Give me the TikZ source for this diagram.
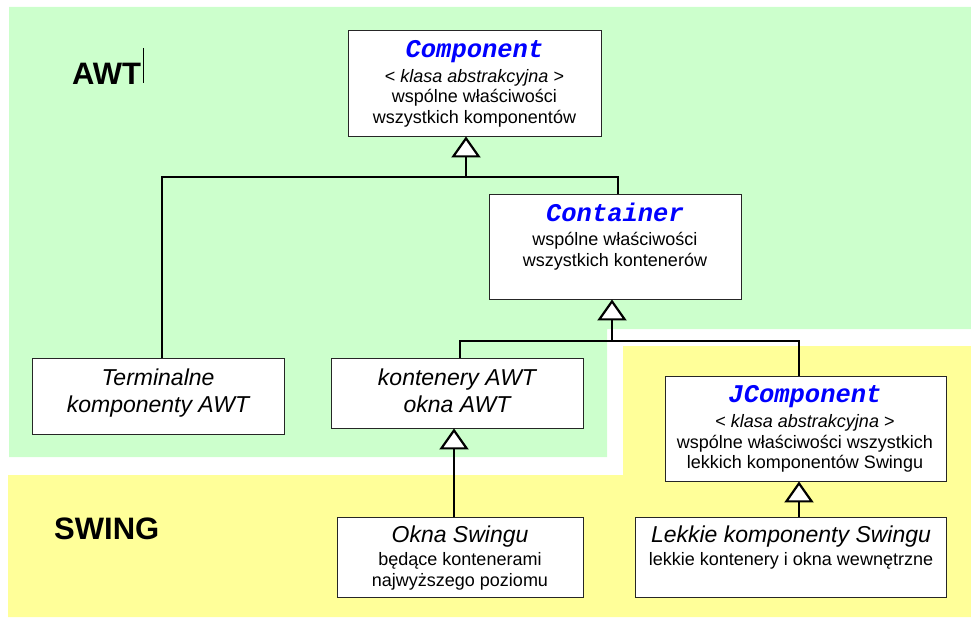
\documentclass[tikz,border=0pt]{standalone}
\usepackage{fontspec}
\setmainfont{Liberation Sans}
\newfontfamily\monof{Liberation Mono}
\usetikzlibrary{arrows.meta}
\definecolor{awtg}{HTML}{CCFFCC}
\definecolor{swy}{HTML}{FFFF99}
\definecolor{clsblue}{HTML}{0000FF}
\tikzset{
 box/.style={draw=black!85, line width=0.9pt, fill=white, rectangle, inner sep=0pt},
 txt/.style={anchor=base, inner sep=0pt, font=\fontsize{18}{20}\selectfont},
 big/.style={anchor=base, inner sep=0pt, font=\fontsize{23}{27}\selectfont\itshape},
 cls/.style={anchor=base, inner sep=0pt, text=clsblue, font=\fontsize{25.5}{28}\selectfont\monof\bfseries\itshape},
 sect/.style={anchor=base west, inner sep=0pt, font=\fontsize{31}{34}\selectfont\bfseries},
 conn/.style={line width=2.2pt, line join=miter},
 inh/.style={conn, -{Triangle[length=21pt,width=29pt,fill=white,line width=2.2pt]}},
}
\begin{document}
\begin{tikzpicture}[x=1pt,y=-1pt]
\useasboundingbox (0,0) rectangle (971,618);
% regions
\fill[awtg] (9,7) -- (971,7) -- (971,329) -- (607,329) -- (607,457) -- (9,457) -- cycle;
\fill[swy] (8,475) -- (623,475) -- (623,346) -- (971,346) -- (971,617) -- (8,617) -- cycle;
% section labels
\node[sect] (awt) at (72,84) {AWT};
\draw[line width=1pt] (143,48) -- (143,83);
\node[sect] (swing) at (54,539) {SWING};
% boxes
\node[box, minimum width=253pt, minimum height=106pt] (comp) at (474.5,83) {};
\node[box, minimum width=252pt, minimum height=105pt] (cont) at (615,246.5) {};
\node[box, minimum width=252pt, minimum height=76pt] (term) at (158,396) {};
\node[box, minimum width=252pt, minimum height=70pt] (kont) at (457,393) {};
\node[box, minimum width=281pt, minimum height=105pt] (jcomp) at (805.5,428.5) {};
\node[box, minimum width=246pt, minimum height=80pt] (okna) at (460,557) {};
\node[box, minimum width=311pt, minimum height=80pt] (lekk) at (790.5,557) {};
% junctions
\coordinate (j1) at (466,177);
\coordinate (j2) at (612,341);
% connectors
\draw[conn] ([xshift=4pt]term.north) |- (j1);
\draw[inh] ([xshift=3pt]cont.north) |- (j1) -- (j1 |- comp.south);
\draw[conn] ([xshift=-6.5pt]jcomp.north) |- (j2);
\draw[inh] ([xshift=3pt]kont.north) |- (j2) -- (j2 |- cont.south);
\draw[inh] ([xshift=-6pt]okna.north) -- ([xshift=-3pt]kont.south);
\draw[inh] ([xshift=8.5pt]lekk.north) -- ([xshift=-6.5pt]jcomp.south);
% texts
\node[cls] (c1) at (474.5,57) {Component};
\node[txt] (c2) at (474.5,82) {< \textit{klasa abstrakcyjna} >};
\node[txt] (c3) at (474.5,102) {wspólne właściwości};
\node[txt] (c4) at (474.5,123) {wszystkich komponentów};
\node[cls] (n1) at (615,221) {Container};
\node[txt] (n2) at (615,245) {wspólne właściwości};
\node[txt] (n3) at (615,266) {wszystkich kontenerów};
\node[cls] (jc1) at (805,402) {JComponent};
\node[txt] (jc2) at (805,427) {< \textit{klasa abstrakcyjna} >};
\node[txt] (jc3) at (805,448) {wspólne właściwości wszystkich};
\node[txt] (jc4) at (805,468) {lekkich komponentów Swingu};
\node[big] (t1) at (158,385) {Terminalne};
\node[big] (t2) at (158,412) {komponenty AWT};
\node[big] (k1) at (457,385) {kontenery AWT};
\node[big] (k2) at (457,412) {okna AWT};
\node[big] (o1) at (460,542) {Okna Swingu};
\node[txt] (o2) at (460,565) {będące kontenerami};
\node[txt] (o3) at (460,586) {najwyższego poziomu};
\node[big] (l1) at (791,542) {Lekkie komponenty Swingu};
\node[txt] (l2) at (791,565) {lekkie kontenery i okna wewnętrzne};
\end{tikzpicture}
\end{document}
